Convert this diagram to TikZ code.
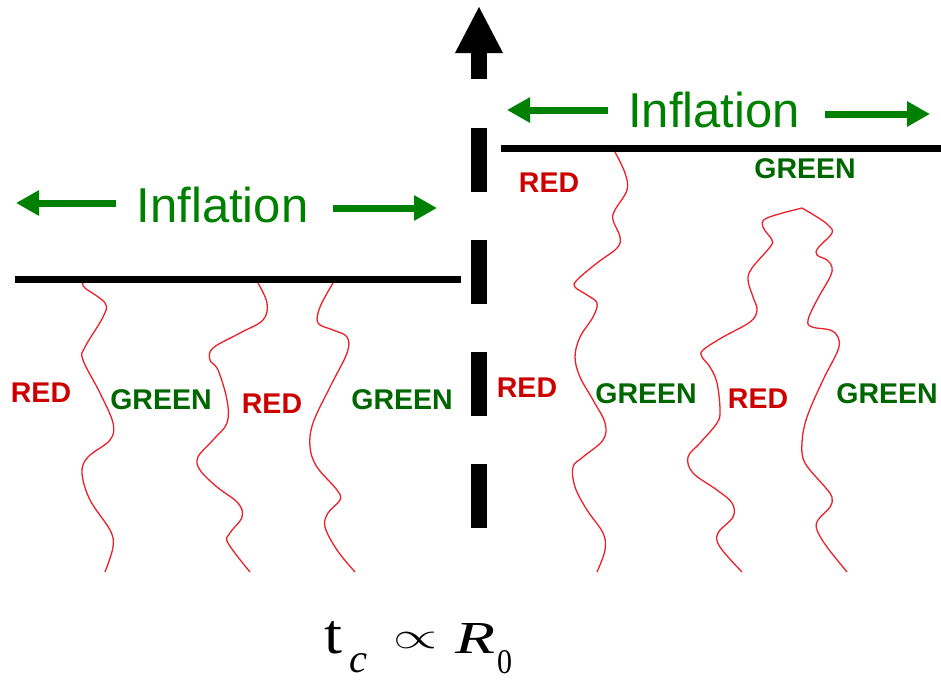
\documentclass[tikz,border=0pt]{standalone}
\usepackage{fontspec}
\usepackage{graphicx}
\setmainfont{Liberation Sans}
\newfontfamily\serifr{Liberation Serif}
\usetikzlibrary{arrows.meta}
\definecolor{wave}{RGB}{236,32,40}
\definecolor{labred}{RGB}{204,0,0}
\definecolor{labgreen}{RGB}{0,102,0}
\definecolor{inflgreen}{RGB}{0,128,0}
\begin{document}
\begin{tikzpicture}[x=1pt,y=-1pt,
  wavy/.style={draw=wave,line width=1.3pt},
  horizon/.style={draw=black,line width=7pt},
  inflarrow/.style={draw=inflgreen,line width=7pt,-{Triangle[length=23pt,width=24pt]}},
  infltext/.style={text=inflgreen,font=\fontsize{49}{52}\selectfont,inner sep=0pt,anchor=base},
  redlab/.style={text=labred,font=\fontsize{28.5}{30}\selectfont\bfseries,inner sep=0pt,anchor=base},
  greenlab/.style={text=labgreen,font=\fontsize{28.5}{30}\selectfont\bfseries,inner sep=0pt,anchor=base},
  formula/.style={inner sep=0pt,anchor=base west,font=\serifr\fontsize{40}{42}\selectfont},
  axisbar/.style={fill=black}]
\useasboundingbox (0,0) rectangle (941,680);
% horizons
\draw[horizon] (15,279) -- (461,279);
\draw[horizon] (501,148) -- (941,148);
% vertical dashed arrow
\fill[axisbar] (455,53) -- (479,7) -- (503,53) -- cycle;
\fill[axisbar] (471,52) rectangle (487,79);
\fill[axisbar] (471,128) rectangle (487,192);
\fill[axisbar] (471,240) rectangle (487,304);
\fill[axisbar] (471,352) rectangle (487,416);
\fill[axisbar] (471,464) rectangle (487,528);
% inflation arrows and text
\coordinate (la1) at (116,203); \coordinate (la2) at (16,203);
\coordinate (lb1) at (333,208); \coordinate (lb2) at (437,208);
\coordinate (ra1) at (608,110); \coordinate (ra2) at (507,110);
\coordinate (rb1) at (825,114); \coordinate (rb2) at (930,114);
\draw[inflarrow] (la1) -- (la2);
\draw[inflarrow] (lb1) -- (lb2);
\draw[inflarrow] (ra1) -- (ra2);
\draw[inflarrow] (rb1) -- (rb2);
\node[infltext] (inflL) at (222.5,222) {Inflation};
\node[infltext] (inflR) at (714,127) {Inflation};
% left wavy lines
\draw[wavy] plot[smooth,tension=0.6] coordinates {(83,283) (85,288) (105,303) (103,317) (85,347) (83,360) (100,393) (113,423) (110,440) (88,457) (82,473) (90,500) (110,530) (113,547) (105,572)};
\draw[wavy] plot[smooth,tension=0.6] coordinates {(258,283) (267,303) (263,320) (240,333) (213,348) (210,360) (218,370) (227,400) (227,423) (213,440) (198,457) (200,470) (217,487) (238,503) (242,517) (230,533) (228,543) (250,572)};
\draw[wavy] plot[smooth,tension=0.6] coordinates {(333,283) (320,307) (318,323) (333,330) (347,337) (347,353) (330,387) (313,423) (310,447) (317,467) (337,490) (340,500) (328,513) (325,527) (337,550) (355,572)};
% right wavy lines
\draw[wavy] plot[smooth,tension=0.6] coordinates {(615,152) (625,173) (627,190) (615,210) (613,220) (620,237) (617,248) (597,263) (577,280) (575,287) (587,295) (597,303) (593,317) (580,337) (575,357) (580,377) (593,400) (605,423) (603,440) (583,457) (573,467) (575,487) (587,510) (603,533) (605,550) (597,572)};
\draw[wavy] plot[smooth,tension=0.6] coordinates {(742,572) (720,547) (718,533) (733,517) (732,503) (717,490) (693,473) (688,457) (700,443) (717,423) (720,410) (717,383) (710,367) (702,357) (703,350) (723,337) (750,322) (757,310) (753,297) (748,280) (752,268) (770,247) (772,240) (763,227) (767,218) (802,208)};
\draw[wavy] plot[smooth,tension=0.6] coordinates {(802,208) (817,217) (828,225) (832,233) (818,248) (817,255) (827,260) (832,267) (830,277) (817,300) (808,320) (812,327) (830,330) (838,337) (838,350) (823,380) (807,417) (802,443) (805,463) (825,487) (832,497) (830,507) (818,520) (817,530) (827,547) (847,572)};
% labels left
\node[redlab] (r1) at (41,402) {RED};
\node[greenlab] (g1) at (161,409) {GREEN};
\node[redlab] (r2) at (272,413) {RED};
\node[greenlab] (g2) at (402,409) {GREEN};
% labels right
\node[redlab] (r3) at (549,192) {RED};
\node[greenlab] (g3) at (805,178) {GREEN};
\node[redlab] (r4) at (527,397) {RED};
\node[greenlab] (g4) at (646,403) {GREEN};
\node[redlab] (r5) at (758,408) {RED};
\node[greenlab] (g5) at (887,403) {GREEN};
% formula
\node[formula] (ft) at (324,653) {\resizebox{18pt}{32pt}{t}};
\node[formula] (fc) at (349,672) {\resizebox{18pt}{19pt}{\itshape c}};
\node[inner sep=0pt] (fp) at (415,640) {\resizebox{44pt}{16pt}{$\propto$}};
\node[formula] (fR) at (455,653) {\resizebox{40pt}{30pt}{\itshape R}};
\node[formula] (f0) at (497,673) {\resizebox{15pt}{23pt}{0}};
\end{tikzpicture}
\end{document}
